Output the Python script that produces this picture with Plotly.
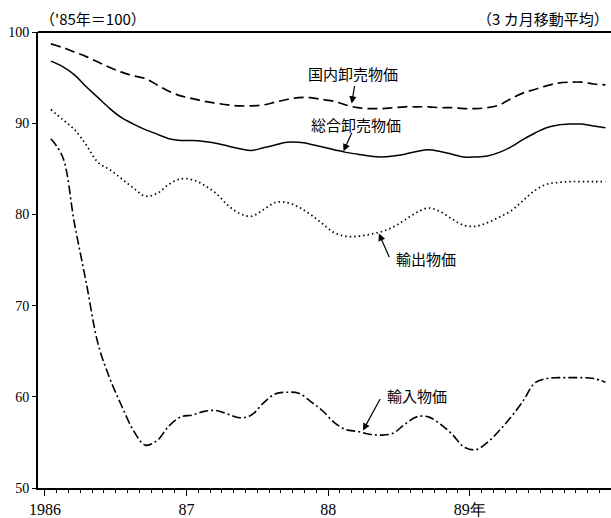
import plotly.graph_objects as go

# months since Jan 1986 (mid-month positions)
months = [i + 0.5 for i in range(48)]

domestic = [98.7, 98.3, 97.8, 97.3, 96.7, 96.1, 95.6, 95.2, 94.9, 94.2, 93.5, 93.0,
            92.7, 92.4, 92.2, 92.0, 91.9, 91.9, 92.0, 92.3, 92.6, 92.8, 92.8, 92.6,
            92.4, 92.0, 91.7, 91.6, 91.6, 91.7, 91.8, 91.8, 91.8, 91.7, 91.7, 91.6,
            91.6, 91.7, 92.0, 92.7, 93.3, 93.7, 94.1, 94.4, 94.5, 94.5, 94.3, 94.2]

overall = [96.8, 96.2, 95.3, 94.0, 92.8, 91.6, 90.6, 89.9, 89.3, 88.8, 88.3, 88.1,
           88.1, 88.0, 87.8, 87.5, 87.2, 87.0, 87.3, 87.6, 87.9, 87.9, 87.7, 87.4,
           87.1, 86.8, 86.6, 86.4, 86.3, 86.4, 86.6, 86.9, 87.1, 86.9, 86.6, 86.3,
           86.3, 86.4, 86.8, 87.4, 88.2, 88.9, 89.5, 89.8, 89.9, 89.9, 89.7, 89.5]

export = [91.5, 90.4, 89.3, 87.6, 85.7, 84.9, 83.9, 82.9, 82.0, 82.3, 83.3, 83.9,
          83.8, 83.2, 82.3, 81.0, 80.1, 79.8, 80.5, 81.3, 81.3, 80.8, 80.0, 79.0,
          78.0, 77.6, 77.6, 77.8, 78.1, 78.6, 79.4, 80.2, 80.7, 80.3, 79.5, 78.8,
          78.7, 79.1, 79.7, 80.4, 81.5, 82.6, 83.3, 83.5, 83.6, 83.6, 83.6, 83.6]

imports = [88.3, 86.3, 79.0, 72.5, 65.8, 62.0, 59.0, 56.3, 54.7, 55.2, 56.8, 57.8,
           58.0, 58.4, 58.5, 58.1, 57.7, 58.0, 59.3, 60.3, 60.5, 60.4, 59.5, 58.5,
           57.2, 56.4, 56.2, 55.9, 55.8, 56.0, 57.0, 57.8, 57.8, 57.0, 55.9, 54.5,
           54.2, 55.0, 56.3, 57.8, 59.5, 61.5, 62.0, 62.1, 62.1, 62.1, 62.0, 61.6]

year_ticks = [0, 12, 24, 36]
year_labels = ["1986", "87", "88", "89年"]
y_ticks = [50, 60, 70, 80, 90, 100]

serif = "Liberation Serif, Times New Roman, serif"
jp = "Noto Sans CJK JP, sans-serif"

fig = go.Figure()
common = dict(mode="lines", line_shape="spline", showlegend=False, hoverinfo="skip")
fig.add_trace(go.Scatter(x=months, y=domestic, line=dict(color="black", width=1.7, dash="10px,5px"), **common))
fig.add_trace(go.Scatter(x=months, y=overall, line=dict(color="black", width=1.5), **common))
fig.add_trace(go.Scatter(x=months, y=export, line=dict(color="black", width=1.7, dash="1.5px,3px"), **common))
fig.add_trace(go.Scatter(x=months, y=imports, line=dict(color="black", width=1.6, dash="9px,3px,2px,3px"), **common))

annos = []
labels = [
    ("国内卸売物価", 26.1, 95.5),
    ("総合卸売物価", 26.4, 89.85),
    ("輸出物価", 32.3, 75.15),
    ("輸入物価", 31.5, 60.15),
]
for t, x, y in labels:
    annos.append(dict(x=x, y=y, text=t, showarrow=False, font=dict(family=jp, size=15, color="black"),
                      xanchor="center", yanchor="middle"))

arrows = [
    (26.0, 92.16, 3, -19),
    (25.3, 86.93, 9, -20),
    (28.3, 77.9, 11, 25),
    (26.95, 56.3, 18, -33),
]
for x, y, ax, ay in arrows:
    annos.append(dict(x=x, y=y, ax=ax, ay=ay, text="", showarrow=True, arrowhead=2,
                      arrowsize=1.2, arrowwidth=1.2, arrowcolor="black"))

annos.append(dict(xref="paper", yref="paper", x=0, y=1, xanchor="left", yanchor="bottom", yshift=1,
                  text="（'85年＝100）", showarrow=False, font=dict(family=jp, size=15, color="black")))
annos.append(dict(xref="paper", yref="paper", x=1, y=1, xanchor="right", yanchor="bottom", yshift=1,
                  text="（3 カ月移動平均）", showarrow=False, font=dict(family=jp, size=15, color="black")))

fig.update_layout(
    width=611, height=518,
    margin=dict(l=38, r=0, t=32, b=27),
    paper_bgcolor="white", plot_bgcolor="white",
    annotations=annos,
    shapes=[dict(type="line", xref="paper", yref="paper", x0=0, x1=1, y0=1, y1=1,
                 line=dict(color="black", width=1.8))],
    xaxis=dict(range=[-0.59, 47.97], tickvals=year_ticks, ticktext=year_labels,
               ticks="outside", ticklen=6, tickwidth=1.3, tickcolor="black",
               minor=dict(dtick=1, tick0=0, ticks="outside", ticklen=3, tickwidth=1, tickcolor="black"),
               showgrid=False, zeroline=False, showline=True, linecolor="black", linewidth=1.8,
               tickfont=dict(family=serif, size=16, color="black")),
    yaxis=dict(range=[50, 100], tickvals=y_ticks, ticks="outside", ticklen=4, tickcolor="black",
               showgrid=False, zeroline=False, showline=True, linecolor="black", linewidth=2,
               tickfont=dict(family=serif, size=14, color="black")),
)

fig.write_html("out.html", config={"displayModeBar": False},
               post_script="document.body.style.margin='0';document.body.style.overflow='hidden';")
